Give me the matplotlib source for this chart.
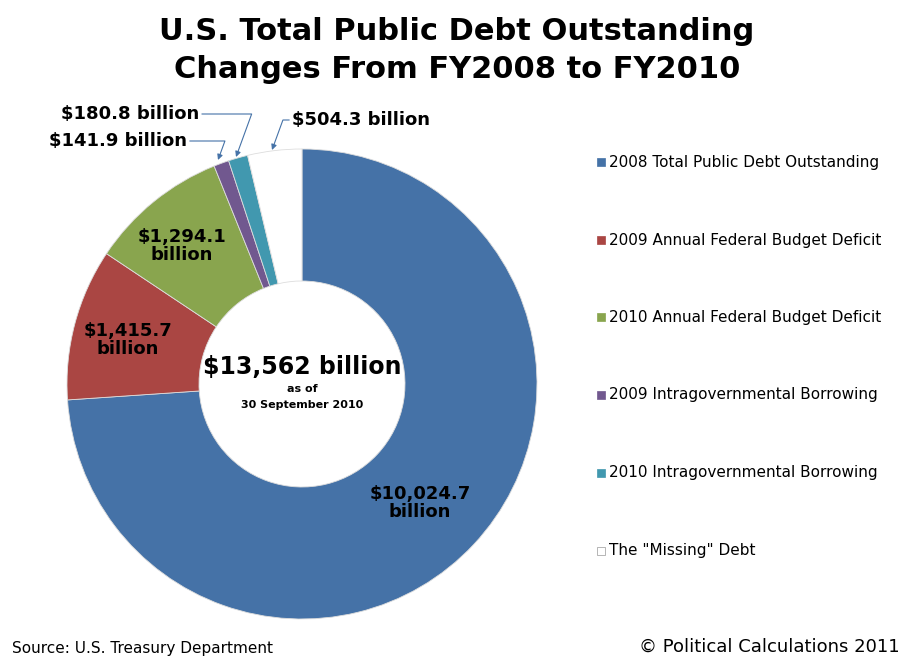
import matplotlib
matplotlib.use("Agg")
import matplotlib.pyplot as plt
from matplotlib.patches import Rectangle
import numpy as np

labels = ["2008 Total Public Debt Outstanding", "2009 Annual Federal Budget Deficit",
          "2010 Annual Federal Budget Deficit", "2009 Intragovernmental Borrowing",
          "2010 Intragovernmental Borrowing", 'The "Missing" Debt']
values = [10024.7, 1415.7, 1294.1, 141.9, 180.8, 504.3]
value_text = ["$10,024.7\nbillion", "$1,415.7\nbillion", "$1,294.1\nbillion",
              "$141.9 billion", "$180.8 billion", "$504.3 billion"]
colors = ["#4572A7", "#AA4643", "#89A54E", "#71588F", "#4198AF", "#FFFFFF"]

W, H = 915, 663
fig = plt.figure(figsize=(W/100, H/100), dpi=100)
fig.patch.set_facecolor("white")
R = 235
cx, cy = 302, 384
ax = fig.add_axes([(cx-R)/W, (H-cy-R)/H, 2*R/W, 2*R/H])
ax.pie(values, colors=colors, startangle=90, counterclock=False, radius=1,
       wedgeprops=dict(width=1-103/R, edgecolor="#DDDDDD", linewidth=0.6))
ax.set_xlim(-1, 1); ax.set_ylim(-1, 1); ax.set_aspect("equal"); ax.axis("off")

def px(x, y):
    return ((x-cx)/R, (cy-y)/R)

fs = 13
# inside labels
for i, (x, y) in zip([0, 1, 2], [(420, 503), (128, 340), (182, 246)]):
    ax.text(*px(x, y), value_text[i], ha="center", va="center", fontsize=fs,
            fontweight="bold", linespacing=1.0)
# outside labels with arrows
ann = [(3, (118, 141), (218, 160), "center"), (4, (130, 114), (236, 157), "center"),
       (5, (361, 120), (272, 150), "center")]
for i, (tx, ty), (ax_, ay), ha in ann:
    ax.annotate(value_text[i], xy=px(ax_, ay), xytext=px(tx, ty), ha=ha, va="center",
                fontsize=fs, fontweight="bold", annotation_clip=False,
                arrowprops=dict(arrowstyle="-|>", color="#4572A7", lw=0.8,
                                shrinkA=0, shrinkB=0, mutation_scale=8,
                                connectionstyle="angle,angleA=0,angleB=70,rad=0"))
ax.text(*px(cx, 367), "$13,562 billion", ha="center", va="center", fontsize=17, fontweight="bold")
ax.text(*px(cx, 389), "as of", ha="center", va="center", fontsize=8, fontweight="bold")
ax.text(*px(cx, 405), "30 September 2010", ha="center", va="center", fontsize=8, fontweight="bold")

fig.text(457/W, 1-32/H, "U.S. Total Public Debt Outstanding", ha="center", va="center",
         fontsize=22, fontweight="bold")
fig.text(457/W, 1-70/H, "Changes From FY2008 to FY2010", ha="center", va="center",
         fontsize=22, fontweight="bold")

ly = [162, 240, 317, 395, 473, 551]
for lab, c, y in zip(labels, colors, ly):
    fig.patches.append(Rectangle(((597)/W, 1-(y+4)/H), 8/W, 8/H, facecolor=c,
                                 edgecolor="#999999" if c == "#FFFFFF" else c,
                                 lw=0.5, transform=fig.transFigure))
    fig.text(609/W, 1-y/H, lab, ha="left", va="center", fontsize=11, family="Verdana" if False else "DejaVu Sans")

fig.text(12/W, 1-648/H, "Source: U.S. Treasury Department", fontsize=11, va="center")
fig.text(900/W, 1-647/H, "© Political Calculations 2011", fontsize=13, va="center", ha="right")
fig.savefig("out.png", dpi=100)
